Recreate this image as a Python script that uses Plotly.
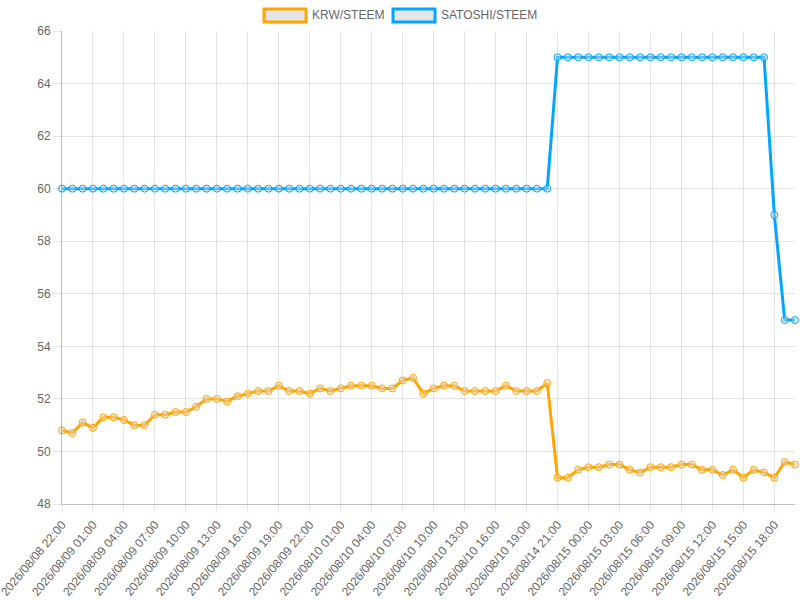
import plotly.graph_objects as go

categories = [
    "2026/08/08 22:00", "2026/08/08 23:00",
    "2026/08/09 00:00", "2026/08/09 01:00", "2026/08/09 02:00", "2026/08/09 03:00",
    "2026/08/09 04:00", "2026/08/09 05:00", "2026/08/09 06:00", "2026/08/09 07:00",
    "2026/08/09 08:00", "2026/08/09 09:00", "2026/08/09 10:00", "2026/08/09 11:00",
    "2026/08/09 12:00", "2026/08/09 13:00", "2026/08/09 14:00", "2026/08/09 15:00",
    "2026/08/09 16:00", "2026/08/09 17:00", "2026/08/09 18:00", "2026/08/09 19:00",
    "2026/08/09 20:00", "2026/08/09 21:00", "2026/08/09 22:00", "2026/08/09 23:00",
    "2026/08/10 00:00", "2026/08/10 01:00", "2026/08/10 02:00", "2026/08/10 03:00",
    "2026/08/10 04:00", "2026/08/10 05:00", "2026/08/10 06:00", "2026/08/10 07:00",
    "2026/08/10 08:00", "2026/08/10 09:00", "2026/08/10 10:00", "2026/08/10 11:00",
    "2026/08/10 12:00", "2026/08/10 13:00", "2026/08/10 14:00", "2026/08/10 15:00",
    "2026/08/10 16:00", "2026/08/10 17:00", "2026/08/10 18:00", "2026/08/10 19:00",
    "2026/08/10 20:00", "2026/08/10 21:00",
    "2026/08/14 21:00", "2026/08/14 22:00", "2026/08/14 23:00",
    "2026/08/15 00:00", "2026/08/15 01:00", "2026/08/15 02:00", "2026/08/15 03:00",
    "2026/08/15 04:00", "2026/08/15 05:00", "2026/08/15 06:00", "2026/08/15 07:00",
    "2026/08/15 08:00", "2026/08/15 09:00", "2026/08/15 10:00", "2026/08/15 11:00",
    "2026/08/15 12:00", "2026/08/15 13:00", "2026/08/15 14:00", "2026/08/15 15:00",
    "2026/08/15 16:00", "2026/08/15 17:00", "2026/08/15 18:00", "2026/08/15 19:00",
    "2026/08/15 20:00",
]

krw_steem = [
    50.8, 50.7, 51.1, 50.9, 51.3, 51.3, 51.2, 51.0, 51.0, 51.4,
    51.4, 51.5, 51.5, 51.7, 52.0, 52.0, 51.9, 52.1, 52.2, 52.3,
    52.3, 52.5, 52.3, 52.3, 52.2, 52.4, 52.3, 52.4, 52.5, 52.5,
    52.5, 52.4, 52.4, 52.7, 52.8, 52.2, 52.4, 52.5, 52.5, 52.3,
    52.3, 52.3, 52.3, 52.5, 52.3, 52.3, 52.3, 52.6,
    49.0, 49.0, 49.3, 49.4, 49.4, 49.5, 49.5, 49.3, 49.2, 49.4,
    49.4, 49.4, 49.5, 49.5, 49.3, 49.3, 49.1, 49.3, 49.0, 49.3,
    49.2, 49.0, 49.6, 49.5,
]

satoshi_steem = [60] * 48 + [65] * 21 + [59, 55, 55]

tick_labels = categories[::3]

series_names = ["KRW/STEEM", "SATOSHI/STEEM"]
series_colors = ["#FFA500", "#00A6FF"]

fig = go.Figure()
for name, vals, col in zip(series_names, [krw_steem, satoshi_steem], series_colors):
    fig.add_trace(go.Scatter(
        x=categories, y=vals, name=name, mode="lines+markers",
        line=dict(color=col, width=3),
        marker=dict(size=7, color="rgba(220,220,220,0.45)", line=dict(color=col, width=1)),
        showlegend=False, cliponaxis=False,
    ))

# manual legend (Chart.js style boxes)
L, R, T, B = 62, 5, 31, 96
W, H = 800 - L - R, 600 - T - B
def px(x):
    return (x - L) / W
def py(y):
    return (600 - B - y) / H

legend_x = [264, 393]
shapes = []
annotations = []
for lx, name, col in zip(legend_x, series_names, series_colors):
    shapes.append(dict(type="rect", xref="paper", yref="paper",
                       x0=px(lx), x1=px(lx + 42), y0=py(22), y1=py(9),
                       line=dict(color=col, width=3), fillcolor="#e6e6e6"))
    annotations.append(dict(xref="paper", yref="paper", x=px(lx + 46), y=py(15.5),
                            text=name, showarrow=False, xanchor="left", yanchor="middle",
                            font=dict(size=12, color="#666666")))

fig.update_layout(
    width=800, height=600,
    margin=dict(l=L, r=R, t=T, b=B, autoexpand=False),
    paper_bgcolor="white", plot_bgcolor="white",
    font=dict(family="Liberation Sans, Arial, sans-serif", size=12, color="#666666"),
    shapes=shapes, annotations=annotations,
    xaxis=dict(
        type="category", range=[0, len(categories) - 1], automargin=False,
        tickmode="array", tickvals=tick_labels, ticktext=tick_labels,
        tickangle=-50, showgrid=True, gridcolor="rgba(0,0,0,0.1)", gridwidth=1,
        ticks="outside", ticklen=8, tickcolor="rgba(0,0,0,0.1)",
        showline=True, linecolor="rgba(0,0,0,0.25)", linewidth=1,
        zeroline=False, tickfont=dict(size=12, color="#666666"),
    ),
    yaxis=dict(
        range=[48, 66], dtick=2, tick0=48, automargin=False,
        showgrid=True, gridcolor="rgba(0,0,0,0.1)", gridwidth=1,
        ticks="outside", ticklen=8, tickcolor="rgba(0,0,0,0.1)",
        showline=True, linecolor="rgba(0,0,0,0.25)", linewidth=1,
        zeroline=False, tickfont=dict(size=12, color="#666666"),
    ),
)

fig.write_html("out.html", config={"displayModeBar": False},
               post_script="document.body.style.margin='0';document.body.style.overflow='hidden';")
